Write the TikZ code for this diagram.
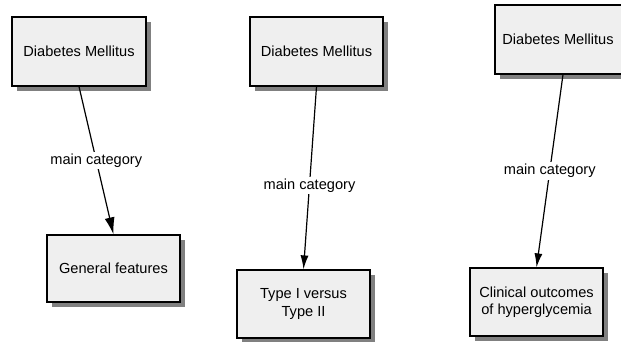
\documentclass[tikz,border=0pt]{standalone}
\usepackage{fontspec}
\setmainfont{Liberation Sans}
\usetikzlibrary{arrows.meta,shadows}
\begin{document}
\begin{tikzpicture}[x=1pt,y=-1pt,
  box/.style={draw=black,line width=1.2pt,fill=boxfill,minimum width=133pt,minimum height=68pt,
    align=center,font=\fontsize{14.6}{17.5}\selectfont,inner sep=2pt,
    drop shadow={shadow xshift=5pt,shadow yshift=-5pt,fill=shadowgray,opacity=1}},
  lbl/.style={fill=white,inner sep=2pt,font=\fontsize{14.6}{17.5}\selectfont},
  conn/.style={line width=1.2pt,-{Latex[length=17pt,width=10pt]}}]
\definecolor{boxfill}{HTML}{EFEFEF}
\definecolor{shadowgray}{HTML}{808080}
\useasboundingbox (0,0) rectangle (621,341);
% panel 1
\node[box,minimum width=134pt,minimum height=69pt] (a1) at (79,51.5) {Diabetes Mellitus};
\node[box,minimum height=67pt] (b1) at (113.5,268.5) {General features};
\draw[conn] (a1.south) -- node[lbl,pos=0.5] {main category} (b1.north);
% panel 2
\node[box,minimum height=69pt] (a2) at (316.5,51.5) {Diabetes Mellitus};
\node[box] (b2) at (303.5,304) {Type I versus\\Type II};
\draw[conn,-{Latex[length=14pt,width=8pt]}] (a2.south) -- node[lbl,pos=0.54] {main category} (b2.north);
% panel 3
\node[box,minimum width=130pt,minimum height=69pt] (a3) at (560,39.5) {\hspace*{-4pt}Diabetes Mellitus};
\node[box] (b3) at (536.5,302) {Clinical outcomes\\of hyperglycemia};
\draw[conn,-{Latex[length=14pt,width=8pt]}] ([xshift=3pt]a3.south) -- node[lbl,pos=0.5] {main category} (b3.north);
\end{tikzpicture}
\end{document}
